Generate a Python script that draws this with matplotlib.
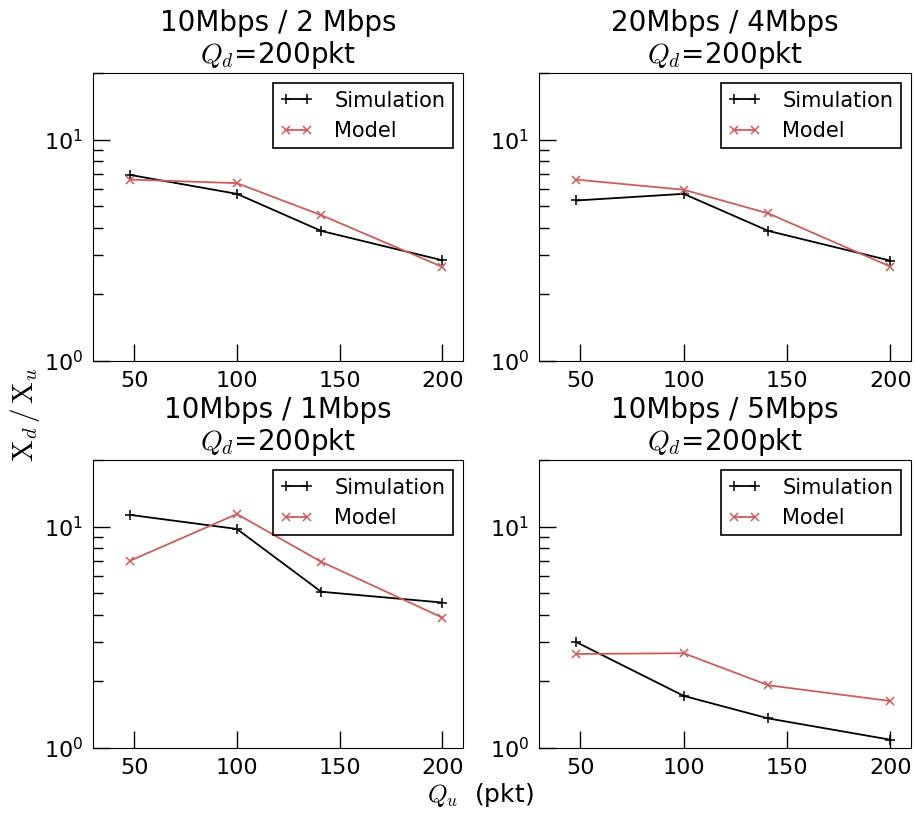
import matplotlib

matplotlib.use("Agg")
import matplotlib.pyplot as plt
from matplotlib.ticker import LogLocator

# queue size Q_u (pkt)
qu = [48, 100, 141, 200]

titles = [
    "10Mbps / 2 Mbps",
    "20Mbps / 4Mbps",
    "10Mbps / 1Mbps",
    "10Mbps / 5Mbps",
]

# X_d / X_u ratio
sim_2m = [6.93, 5.69, 3.87, 2.85]
model_2m = [6.6, 6.36, 4.56, 2.66]

sim_4m = [5.31, 5.69, 3.87, 2.84]
model_4m = [6.6, 5.94, 4.64, 2.67]

sim_1m = [11.3, 9.76, 5.08, 4.54]
model_1m = [7.01, 11.4, 6.94, 3.88]

sim_5m = [3.01, 1.72, 1.36, 1.09]
model_5m = [2.66, 2.68, 1.92, 1.63]

sims = [sim_2m, sim_4m, sim_1m, sim_5m]
models = [model_2m, model_4m, model_1m, model_5m]

plt.rcParams.update({
    "mathtext.fontset": "cm",
    "font.size": 16,
    "xtick.direction": "in",
    "ytick.direction": "in",
    "xtick.major.size": 12,
    "ytick.major.size": 12,
    "ytick.minor.size": 7,
    "xtick.major.pad": 7,
    "ytick.major.pad": 7,
})

W, H = 915, 816
fig = plt.figure(figsize=(W / 100, H / 100), dpi=100)

# axes boxes in pixels: (left, top, right, bottom)
boxes = [
    (93, 73, 463, 361),
    (539, 73, 911, 361),
    (93, 460, 463, 748),
    (539, 460, 911, 748),
]

for i, (l, t, r, b) in enumerate(boxes):
    ax = fig.add_axes([l / W, 1 - b / H, (r - l) / W, (b - t) / H])
    ax.plot(qu, sims[i], color="black", marker="+", markersize=7, mew=1.1,
            lw=1.3, label="Simulation")
    ax.plot(qu, models[i], color="indianred", marker="x", markersize=6,
            mew=1.1, lw=1.3, label="Model")
    ax.set_yscale("log")
    ax.set_xlim(30, 210)
    ax.set_ylim(1, 20)
    ax.set_xticks([50, 100, 150, 200])
    ax.yaxis.set_major_locator(LogLocator(base=10))
    ax.yaxis.set_minor_locator(LogLocator(base=10, subs=range(2, 10)))
    ax.yaxis.set_minor_formatter(plt.NullFormatter())
    ax.tick_params(labelsize=16, width=1)
    ax.tick_params(which="minor", width=1)
    ax.set_title(titles[i] + "\n$Q_d$=200pkt", fontsize=20, linespacing=1.1,
                 pad=7)
    leg = ax.legend(loc="upper right", numpoints=2, fontsize=15,
                    fancybox=False, framealpha=1, borderaxespad=0.5,
                    handlelength=1.6, handletextpad=1.0, borderpad=0.35)
    leg.get_frame().set_edgecolor("black")
    leg.get_frame().set_linewidth(1.2)

fig.text(25 / W, 1 - 414 / H, "$\\mathrm{X}_d\\,/\\,\\mathrm{X}_u$",
         rotation=90, fontsize=21, ha="center", va="center")
fig.text(480 / W, 1 - 795 / H, "$Q_u$  (pkt)", fontsize=18, ha="center",
         va="center")

fig.savefig("out.png", dpi=100)
